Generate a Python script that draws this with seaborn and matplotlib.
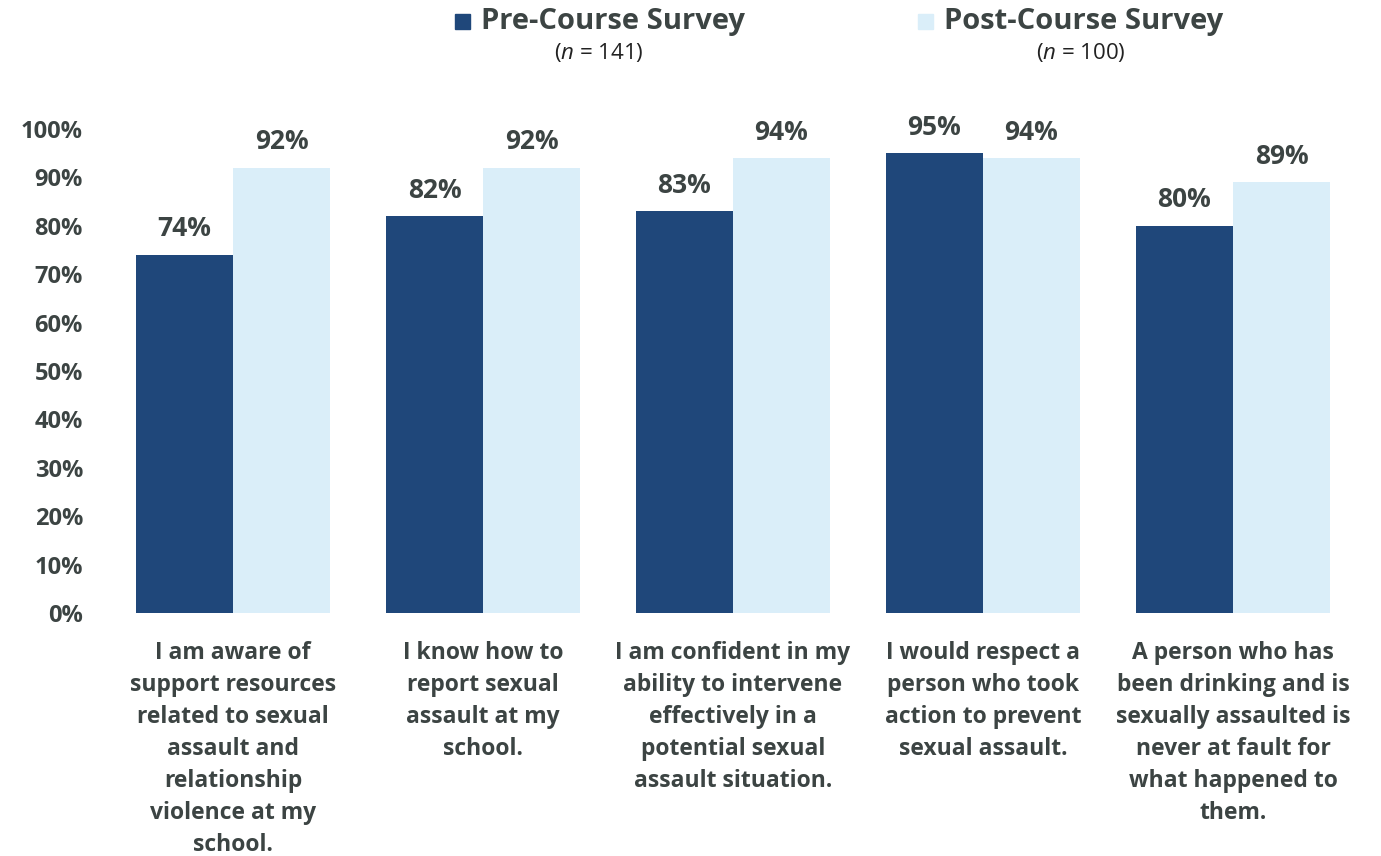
import matplotlib
matplotlib.use("Agg")
import matplotlib.pyplot as plt
from matplotlib.patches import Rectangle
import seaborn as sns
import pandas as pd

categories = [
    "I am aware of\nsupport resources\nrelated to sexual\nassault and\nrelationship\nviolence at my\nschool.",
    "I know how to\nreport sexual\nassault at my\nschool.",
    "I am confident in my\nability to intervene\neffectively in a\npotential sexual\nassault situation.",
    "I would respect a\nperson who took\naction to prevent\nsexual assault.",
    "A person who has\nbeen drinking and is\nsexually assaulted is\nnever at fault for\nwhat happened to\nthem.",
]
pre_values = [74, 82, 83, 95, 80]
post_values = [92, 92, 94, 94, 89]
series_names = ["Pre-Course Survey", "Post-Course Survey"]
series_n = [141, 100]
y_ticks = [0, 10, 20, 30, 40, 50, 60, 70, 80, 90, 100]

PRE_COLOR = "#1f477a"
POST_COLOR = "#daeef9"
TEXT_COLOR = "#3c4443"

sns.set_theme(style="white")
plt.rcParams["font.family"] = ["Open Sans", "DejaVu Sans"]
plt.rcParams["mathtext.fontset"] = "custom"
plt.rcParams["mathtext.rm"] = "Open Sans"
plt.rcParams["mathtext.it"] = "Open Sans:italic"

df = pd.DataFrame({
    "category": categories * 2,
    "series": [series_names[0]] * len(categories) + [series_names[1]] * len(categories),
    "value": pre_values + post_values,
})

fig = plt.figure(figsize=(13.81, 8.56), dpi=100)
ax = fig.add_axes([0.0782, 0.2839, 0.9051, 0.5654])

sns.barplot(
    data=df, x="category", y="value", hue="series",
    order=categories, hue_order=series_names,
    palette=[PRE_COLOR, POST_COLOR], width=0.776,
    saturation=1, legend=False, ax=ax, linewidth=0,
)

ax.set_xlim(-0.5, len(categories) - 0.5)
ax.set_ylim(0, 100)
ax.set_yticks(y_ticks)
ax.set_yticklabels([f"{t}%" for t in y_ticks], fontsize=17,
                   fontweight="bold", color=TEXT_COLOR)
ax.set_xticks(range(len(categories)))
ax.set_xticklabels(categories, fontsize=16.5, fontweight="bold",
                   color=TEXT_COLOR, linespacing=1.45, va="top")
ax.tick_params(axis="y", length=0, pad=18)
ax.tick_params(axis="x", length=0, pad=20)
ax.set_xlabel("")
ax.set_ylabel("")
for s in ax.spines.values():
    s.set_visible(False)

# value labels above each bar
for container in ax.containers:
    ax.bar_label(container, labels=[f"{v:.0f}%" for v in container.datavalues],
                 padding=9, fontsize=19, fontweight="bold",
                 color=TEXT_COLOR, clip_on=False)

# legend with sample sizes
W, H = fig.get_size_inches() * fig.dpi
legend_items = [
    (PRE_COLOR, series_names[0], series_n[0], 455, 599),
    (POST_COLOR, series_names[1], series_n[1], 918, 1081),
]
for color, name, n, x_px, nx_px in legend_items:
    fig.patches.append(Rectangle((x_px / W, 1 - 29 / H), 15 / W, 15 / H,
                                 transform=fig.transFigure, color=color))
    fig.text((x_px + 26) / W, 1 - 21 / H, name, fontsize=21,
             fontweight="bold", color=TEXT_COLOR, va="center", ha="left")
    fig.text(nx_px / W, 1 - 53 / H, f"($n$ = {n})", fontsize=16,
             color="#222222", va="center", ha="center")

fig.savefig("out.png", dpi=100)
